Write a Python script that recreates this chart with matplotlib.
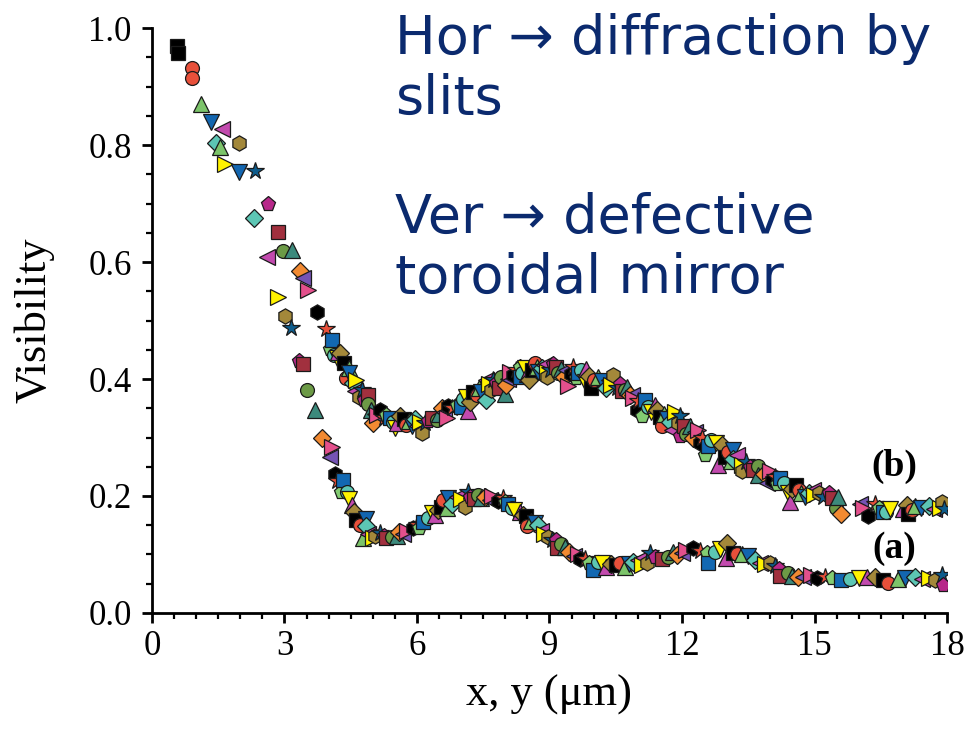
import matplotlib
matplotlib.use("Agg")
import matplotlib.pyplot as plt
import numpy as np
from matplotlib.ticker import MultipleLocator, FormatStrFormatter

# Separation (µm) and measured fringe visibility, curve (b): upper set
x_b = [0.57, 0.90, 1.11, 1.33, 1.46, 1.58, 1.65, 1.98, 2.33, 2.62, 2.85, 2.97,
       3.18, 3.35, 3.41, 3.54, 3.73, 3.93, 4.03, 4.07, 4.12, 4.26, 4.35, 4.39,
       4.47, 4.60, 4.63, 4.69, 4.90, 4.90, 5.01, 5.10, 5.16, 5.39, 5.50, 5.54,
       5.61, 5.83, 5.88, 6.07, 6.11, 6.26, 6.45, 6.56, 6.69, 6.71, 6.90, 7.16,
       7.20, 7.27, 7.46, 7.56, 7.56, 7.67, 7.79, 7.86, 7.99, 8.01, 8.10, 8.33,
       8.33, 8.37, 8.54, 8.67, 8.71, 8.75, 8.94, 8.94, 9.09, 9.27, 9.32, 9.43,
       9.54, 9.65, 9.80, 9.83, 9.95, 10.10, 10.29, 10.44, 10.52, 10.71, 10.75,
       10.82, 10.86, 10.97, 11.09, 11.16, 11.43, 11.54, 11.59, 11.73, 11.77,
       11.84, 11.95, 11.95, 12.18, 12.37, 12.41, 12.52, 12.77, 12.82, 12.90,
       12.97, 13.16, 13.16, 13.35, 13.35, 13.54, 13.73, 13.73, 13.92, 14.00,
       14.03, 14.22, 14.41, 14.44, 14.59, 14.65, 14.78, 14.97, 14.99, 15.33,
       15.49, 15.54, 15.61, 16.03, 16.22, 16.37, 16.56, 16.62, 17.09, 17.12,
       17.27, 17.60, 17.84, 17.88, 17.93,
       4.18, 4.22, 4.45, 4.55, 4.75, 4.80, 4.95, 5.05, 5.25, 5.30, 5.45, 5.70,
       5.75, 5.95, 6.00, 6.18, 6.35, 6.50, 6.62, 6.80, 7.00, 7.05, 7.10, 7.35,
       7.40, 7.62, 7.72, 7.90, 8.05, 8.18, 8.25, 8.45, 8.50, 8.60, 8.82, 8.88,
       9.02, 9.15, 9.20, 9.38, 9.48, 9.60, 9.72, 9.90, 10.00, 10.18, 10.35,
       10.40, 10.60, 10.65, 10.90, 11.00, 11.22, 11.30, 11.38, 11.50, 11.65,
       11.90, 12.05, 12.10, 12.25, 12.30, 12.45, 12.60, 12.65, 13.05, 13.10,
       13.25, 13.45, 13.60, 13.85, 14.10, 14.15, 14.30, 14.50, 14.70, 14.88,
       15.10, 15.20, 15.40, 16.10, 16.45, 16.70, 17.00, 17.20, 17.40, 17.70]
v_b = [0.969, 0.931, 0.870, 0.840, 0.803, 0.827, 0.767, 0.804, 0.756, 0.699, 0.652, 0.619,
       0.621, 0.585, 0.572, 0.552, 0.515, 0.485, 0.452, 0.467, 0.441, 0.445, 0.428, 0.402,
       0.411, 0.380, 0.398, 0.370, 0.373, 0.357, 0.325, 0.338, 0.347, 0.333, 0.316, 0.324,
       0.337, 0.329, 0.319, 0.327, 0.307, 0.329, 0.330, 0.350, 0.333, 0.353, 0.356, 0.346,
       0.361, 0.378, 0.378, 0.364, 0.399, 0.381, 0.393, 0.384, 0.374, 0.390, 0.412, 0.421,
       0.403, 0.410, 0.399, 0.427, 0.421, 0.412, 0.412, 0.404, 0.426, 0.417, 0.404, 0.388,
       0.421, 0.411, 0.395, 0.417, 0.384, 0.404, 0.384, 0.407, 0.384, 0.381, 0.387,
       0.373, 0.373, 0.347, 0.337, 0.364, 0.347, 0.319, 0.340, 0.327, 0.312,
       0.344, 0.337, 0.303, 0.319, 0.312, 0.290, 0.270, 0.290, 0.253, 0.287,
       0.267, 0.279, 0.263, 0.253, 0.242, 0.250, 0.251, 0.236, 0.222, 0.242,
       0.227, 0.230, 0.205, 0.190, 0.219, 0.210, 0.199, 0.210, 0.202, 0.205,
       0.179, 0.199, 0.170, 0.187, 0.166, 0.187, 0.173, 0.172, 0.185, 0.170,
       0.183, 0.183, 0.179, 0.190, 0.177,
       0.436, 0.447, 0.418, 0.393, 0.381, 0.364, 0.347, 0.341, 0.333, 0.338, 0.327, 0.332,
       0.322, 0.331, 0.320, 0.325, 0.333, 0.340, 0.344, 0.350, 0.352, 0.365, 0.370, 0.372,
       0.385, 0.392, 0.398, 0.403, 0.400, 0.406, 0.415, 0.418, 0.409, 0.416, 0.418, 0.424,
       0.415, 0.420, 0.410, 0.415, 0.408, 0.402, 0.415, 0.405, 0.398, 0.396, 0.398,
       0.390, 0.392, 0.380, 0.368, 0.362, 0.352, 0.343, 0.355, 0.335, 0.332,
       0.325, 0.320, 0.306, 0.300, 0.310, 0.300, 0.285, 0.295, 0.275, 0.260,
       0.270, 0.258, 0.245, 0.238, 0.232, 0.220, 0.222, 0.212, 0.205, 0.205,
       0.205, 0.198, 0.196, 0.180, 0.180, 0.178, 0.178, 0.176, 0.180, 0.178]

# Curve (a): lower set
x_a = [0.60, 0.90, 1.54, 1.98, 2.32, 2.61, 2.85, 3.01, 3.15, 3.33, 3.43, 3.50,
       3.69, 3.86, 4.03, 4.07, 4.14, 4.28, 4.32, 4.42, 4.52, 4.63, 4.78, 4.84,
       4.84, 5.01, 5.16, 5.43, 5.69, 5.90, 6.14, 6.33, 6.48, 6.60, 6.69, 6.71,
       6.90, 7.09, 7.16, 7.20, 7.39, 7.54, 7.65, 7.84, 7.99, 8.14, 8.33, 8.47,
       8.48, 8.67, 8.87, 8.97, 9.15, 9.18, 9.35, 9.55, 9.80, 9.99, 10.10, 10.29,
       10.50, 10.71, 10.90, 11.21, 11.27, 11.69, 11.89, 12.26, 12.57, 12.60,
       12.99, 13.03, 13.24, 13.50, 13.76, 13.99, 14.20, 14.22, 14.63, 14.93,
       15.24, 15.61, 15.80, 16.18, 16.37, 16.67, 17.05, 17.27, 17.43, 17.73,
       17.88, 17.92,
       4.20, 4.45, 4.58, 4.70, 4.90, 5.05, 5.25, 5.30, 5.55, 5.60, 5.78, 6.00,
       6.05, 6.25, 6.40, 6.55, 6.80, 7.00, 7.30, 7.45, 7.70, 7.95, 8.05, 8.20,
       8.40, 8.58, 8.75, 8.80, 9.05, 9.25, 9.45, 9.65, 9.70, 9.90, 10.20, 10.40,
       10.60, 10.80, 11.00, 11.10, 11.40, 11.55, 11.80, 12.00, 12.10, 12.40,
       12.75, 12.85, 13.15, 13.35, 13.65, 13.88, 14.10, 14.40, 14.50, 14.75,
       15.05, 15.40, 16.00, 16.55, 16.90, 17.60]
v_a = [0.957, 0.914, 0.797, 0.754, 0.676, 0.608, 0.540, 0.508, 0.487, 0.431, 0.426, 0.381,
       0.347, 0.299, 0.266, 0.283, 0.238, 0.206, 0.227, 0.206, 0.185, 0.159, 0.128, 0.160,
       0.148, 0.129, 0.136, 0.130, 0.135, 0.145, 0.156, 0.171, 0.176, 0.193, 0.179, 0.196,
       0.199, 0.182, 0.206, 0.199, 0.202, 0.199, 0.193, 0.192, 0.190, 0.180, 0.173, 0.165,
       0.149, 0.153, 0.135, 0.130, 0.125, 0.111, 0.113, 0.097, 0.092, 0.074, 0.088, 0.078,
       0.082, 0.078, 0.088, 0.085, 0.102, 0.096, 0.099, 0.111, 0.103, 0.085,
       0.094, 0.119, 0.101, 0.097, 0.085, 0.085, 0.075, 0.064, 0.062, 0.065,
       0.062, 0.056, 0.058, 0.062, 0.062, 0.051, 0.059, 0.062, 0.058, 0.056,
       0.065, 0.048,
       0.225, 0.195, 0.172, 0.150, 0.135, 0.132, 0.132, 0.128, 0.132, 0.138, 0.140, 0.150,
       0.146, 0.162, 0.168, 0.181, 0.186, 0.195, 0.195, 0.196, 0.200, 0.196, 0.187, 0.176,
       0.168, 0.158, 0.150, 0.141, 0.125, 0.118, 0.105, 0.100, 0.092, 0.085, 0.085, 0.083,
       0.085, 0.083, 0.090, 0.082, 0.095, 0.092, 0.104, 0.102, 0.107, 0.106,
       0.104, 0.110, 0.103, 0.100, 0.090, 0.083, 0.080, 0.068, 0.064, 0.062,
       0.060, 0.060, 0.060, 0.057, 0.058, 0.060]

curve_labels = ["(a)", "(b)"]
label_pos = [(16.8, 0.111), (16.8, 0.250)]
note_lines = ["Hor \u2192 diffraction by", "slits", "", "Ver \u2192 defective", "toroidal mirror"]

# marker cycle: (marker, face colour, size in points)
styles = [
    ("s", "#000000", 10), ("o", "#E8503A", 10), ("^", "#7CC46A", 11), ("v", "#1366B0", 11),
    ("D", "#5CC6B4", 9), ("<", "#C24AAE", 11), (">", "#FFF200", 11), ("h", "#A3883A", 11),
    ("*", "#0D5C8C", 13), ("p", "#B7288A", 11), ("s", "#A1303E", 10), ("o", "#6C9A46", 10),
    ("^", "#3C8A7C", 11), ("D", "#F28A32", 9), ("<", "#7553B4", 11), (">", "#E3508C", 11),
    ("h", "#000000", 11), ("*", "#E8503A", 13), ("p", "#83CC72", 11), ("s", "#1268B2", 10),
    ("o", "#5CC6B4", 10), ("v", "#FFF200", 11), ("^", "#C24AAE", 11), ("D", "#A3883A", 9),
]

serif = ["Liberation Serif", "DejaVu Serif"]

fig = plt.figure(figsize=(9.71, 7.38), dpi=100)
ax = fig.add_axes([0.1565, 0.1694, 0.8188, 0.7926])

for xs, vs in ((x_b, v_b), (x_a, v_a)):
    xs = np.asarray(xs)
    vs = np.asarray(vs)
    order = np.argsort(xs, kind="stable")
    for i, k in enumerate(order):
        m, c, ms = styles[i % len(styles)]
        ax.plot([xs[k]], [vs[k]], linestyle="none", marker=m, markersize=ms,
                markerfacecolor=c, markeredgecolor="#1a1a1a", markeredgewidth=0.9,
                zorder=3)

for lab, (lx, ly) in zip(curve_labels, label_pos):
    ax.text(lx, ly, lab, family=serif, fontweight="bold", fontsize=27,
            ha="center", va="center")

ax.set_xlim(0, 18)
ax.set_ylim(0, 1.0)
ax.xaxis.set_major_locator(MultipleLocator(3))
ax.xaxis.set_minor_locator(MultipleLocator(0.5))
ax.yaxis.set_major_locator(MultipleLocator(0.2))
ax.yaxis.set_minor_locator(MultipleLocator(0.05))
ax.yaxis.set_major_formatter(FormatStrFormatter("%.1f"))

for side in ("top", "right"):
    ax.spines[side].set_visible(False)
for side in ("left", "bottom"):
    ax.spines[side].set_linewidth(2.0)
ax.tick_params(which="major", direction="out", length=7.5, width=2.0, labelsize=25, pad=5)
ax.tick_params(which="minor", direction="out", length=4.5, width=1.6)
ax.tick_params(axis="y", which="major", pad=7)
for t in ax.get_xticklabels() + ax.get_yticklabels():
    t.set_family(serif)

ax.set_xlabel("x, y (\u03bcm)", family=serif, fontsize=32, labelpad=8)
ax.set_ylabel("Visibility", family=serif, fontsize=32, labelpad=24)

fig.text(395 / 971, 1 - 13 / 738, "\n".join(note_lines), family="DejaVu Sans",
         fontsize=39, color="#0B2A6E", ha="left", va="top", linespacing=1.19)

fig.savefig("out.png", dpi=100)
